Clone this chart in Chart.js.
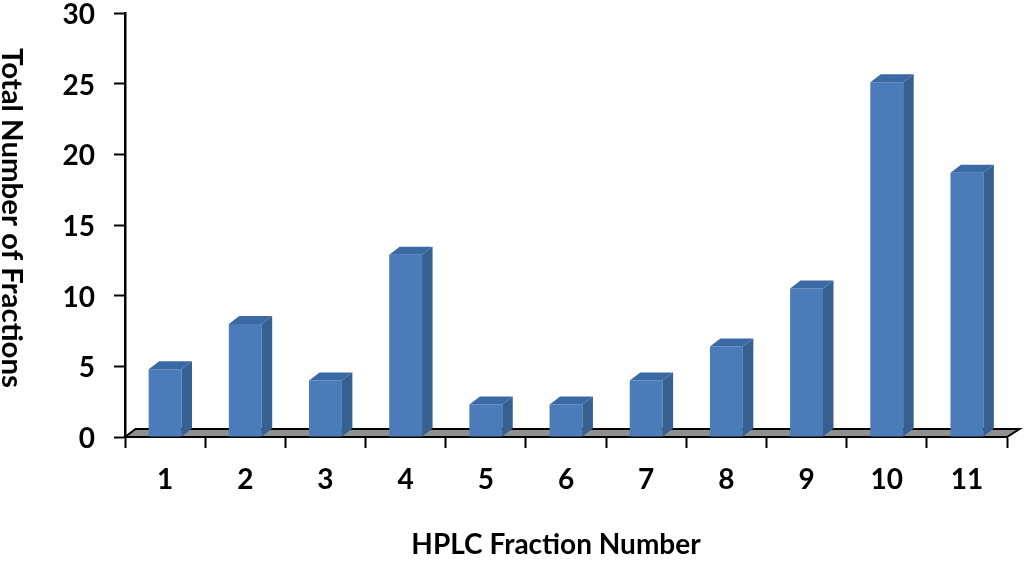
<!DOCTYPE html>
<html lang="en">

<head>
    <meta charset="UTF-8">
    <title>HPLC Fraction Number</title>
    <script src="https://cdn.jsdelivr.net/npm/chart.js@4.4.1/dist/chart.umd.min.js"></script>
    <style>
        html, body {
            margin: 0;
            padding: 0;
            background: #fff;
        }
        #wrap {
            width: 1024px;
            height: 561px;
        }
    </style>
</head>

<body>
    <div id="wrap">
        <canvas id="chrt" role="img" aria-label="Total Number of Fractions by HPLC Fraction Number"></canvas>
    </div>

    <script>
        const fractions = ['1', '2', '3', '4', '5', '6', '7', '8', '9', '10', '11']
        const totals = [4.8, 8.0, 4.0, 12.9, 2.3, 2.3, 4.0, 6.4, 10.5, 25.1, 18.7]
        const xTitle = 'HPLC Fraction Number'
        const yTitle = 'Total Number of Fractions'

        const fontName = 'Lato, "Open Sans", sans-serif'
        const axisColor = '#000'
        const depthX = 10.5
        const depthY = 8

        // draws the floor under the bars, the Excel style 3D look
        const floor3d = {
            id: 'floor3d',
            beforeDatasetsDraw(chart) {
                const { ctx, chartArea: a } = chart
                ctx.save()
                ctx.beginPath()
                ctx.moveTo(a.left, a.bottom)
                ctx.lineTo(a.left + depthX, a.bottom - depthY)
                ctx.lineTo(a.right + depthX + 2, a.bottom - depthY)
                ctx.lineTo(a.right, a.bottom)
                ctx.closePath()
                ctx.fillStyle = '#8f8f8f'
                ctx.fill()
                ctx.strokeStyle = axisColor
                ctx.lineWidth = 2
                ctx.stroke()
                ctx.restore()
            }
        }

        // top and side faces for each bar
        const bars3d = {
            id: 'bars3d',
            afterDatasetsDraw(chart) {
                const { ctx } = chart
                ctx.save()
                chart.getDatasetMeta(0).data.forEach(bar => {
                    const left = bar.x - bar.width / 2
                    const right = bar.x + bar.width / 2
                    ctx.fillStyle = '#35608f'
                    ctx.beginPath()
                    ctx.moveTo(right, bar.y)
                    ctx.lineTo(right + depthX, bar.y - depthY)
                    ctx.lineTo(right + depthX, bar.base - depthY)
                    ctx.lineTo(right, bar.base)
                    ctx.closePath()
                    ctx.fill()
                    ctx.fillStyle = '#3a69a3'
                    ctx.beginPath()
                    ctx.moveTo(left, bar.y)
                    ctx.lineTo(left + depthX, bar.y - depthY)
                    ctx.lineTo(right + depthX, bar.y - depthY)
                    ctx.lineTo(right, bar.y)
                    ctx.closePath()
                    ctx.fill()
                })
                ctx.restore()
            }
        }

        // the y title reads top to bottom, which the scale title can't do
        const axisTitles = {
            id: 'axisTitles',
            afterDraw(chart) {
                const { ctx } = chart
                ctx.save()
                ctx.fillStyle = axisColor
                ctx.font = 'bold 28px ' + fontName
                ctx.textAlign = 'center'
                ctx.textBaseline = 'middle'
                ctx.fillText(xTitle, 556, 545)
                ctx.translate(11, 218)
                ctx.rotate(Math.PI / 2)
                ctx.scale(1.05, 1)
                ctx.fillText(yTitle, 0, 0)
                ctx.restore()
            }
        }

        // fixed scale sizes, and no extra room for half of the end labels
        function fitScale(s) {
            if (s.isHorizontal()) s.height = 124
            else s.width = 125
            s.paddingTop = 0
            s.paddingBottom = 0
            s.paddingLeft = 0
            s.paddingRight = 0
        }

        let myChart = new Chart(document.getElementById('chrt').getContext('2d'), {
            type: 'bar',
            data: {
                labels: fractions,
                datasets: [
                    {
                        data: totals,
                        label: 'Total',
                        backgroundColor: '#4a7cba',
                        barPercentage: 0.41,
                        categoryPercentage: 1
                    }
                ]
            },
            options: {
                responsive: true,
                maintainAspectRatio: false,
                animation: false,
                layout: { padding: { left: 0, right: 17, top: 13, bottom: 0 } },
                plugins: {
                    legend: { display: false },
                    tooltip: { enabled: false }
                },
                scales: {
                    x: {
                        afterFit: fitScale,
                        grid: { drawOnChartArea: false, color: axisColor, tickLength: 11, tickWidth: 2 },
                        border: { color: axisColor, width: 2 },
                        ticks: {
                            color: axisColor,
                            padding: 15,
                            maxRotation: 0,
                            font: { family: fontName, size: 28, weight: 'bold' }
                        }
                    },
                    y: {
                        min: 0,
                        max: 30,
                        afterFit: fitScale,
                        grid: { drawOnChartArea: false, color: axisColor, tickLength: 11, tickWidth: 2 },
                        border: { color: axisColor, width: 2.5 },
                        ticks: {
                            stepSize: 5,
                            color: axisColor,
                            padding: 19,
                            labelOffset: 2,
                            font: { family: fontName, size: 28, weight: 'bold' }
                        }
                    }
                }
            },
            plugins: [floor3d, bars3d, axisTitles]
        })
    </script>

</body>

</html>
